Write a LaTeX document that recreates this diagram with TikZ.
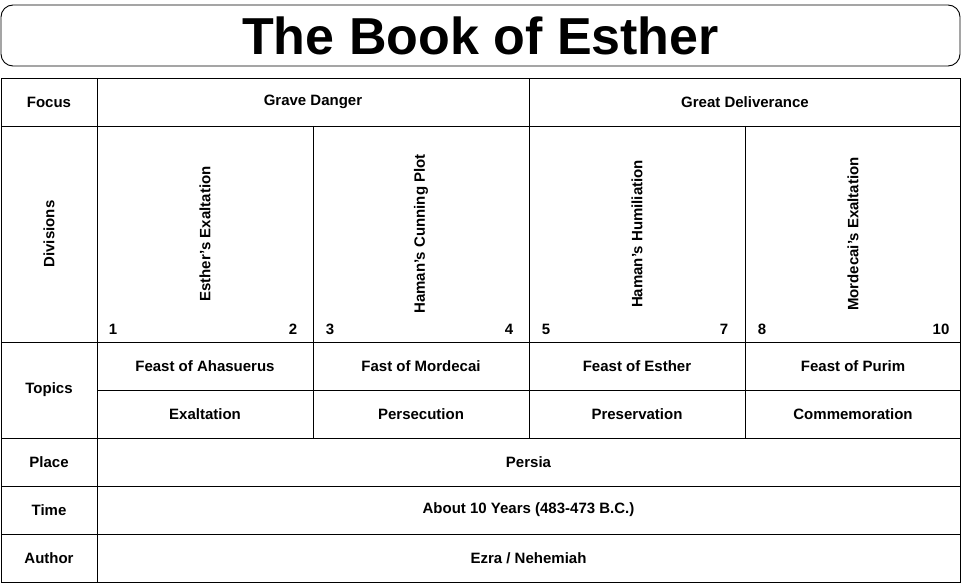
\documentclass[tikz,border=0pt]{standalone}
\usepackage{fontspec}
\setmainfont{Liberation Sans}
\usetikzlibrary{positioning}

\begin{document}
\begin{tikzpicture}[
  x=1pt, y=-1pt,
  cell/.style={font=\bfseries\fontsize{15}{18}\selectfont, inner sep=0pt},
  num/.style={font=\bfseries\fontsize{15}{18}\selectfont, inner sep=1pt, fill=white},
  vert/.style={cell, rotate=90},
  grid/.style={draw=black, line width=0.9pt}
]
\useasboundingbox (0,0) rectangle (961,583);

% Title
\draw[grid, rounded corners=12pt] (1,5) rectangle (960,66);
\node[font=\bfseries\fontsize{52}{56}\selectfont] (title) at (480.5,36) {The Book of Esther};

% Table frame and rows
\draw[grid] (1,78) rectangle (960,582);
\foreach \y in {126,342,438,486,534} \draw[grid] (1,\y) -- (960,\y);
\draw[grid] (97,390) -- (960,390);
\draw[grid] (97,78) -- (97,582);
\draw[grid] (529,78) -- (529,438);
\foreach \x in {313,745} \draw[grid] (\x,126) -- (\x,438);

% Row labels
\node[cell] (focus) at (49,102) {Focus};
\node[vert] (divisions) at (49,234) {Divisions};
\node[cell] (topics) at (49,390) {Topics};
\node[cell] (place) at (49,462) {Place};
\node[cell] (time) at (49,510) {Time};
\node[cell] (author) at (49,558) {Author};

% Focus
\node[cell] (danger) at (313,102) {Grave Danger};
\node[cell] (deliver) at (745,102) {Great Deliverance};

% Divisions
\node[vert] (div1) at (205,234) {Esther’s Exaltation};
\node[vert] (div2) at (421,234) {Haman’s Cunning Plot};
\node[vert] (div3) at (637,234) {Haman’s Humiliation};
\node[vert] (div4) at (853,234) {Mordecai’s Exaltation};

% Chapters
\node[num] (c1) at (113,329) {1};
\node[num] (c2) at (293,329) {2};
\node[num] (c3) at (330,329) {3};
\node[num] (c4) at (509,329) {4};
\node[num] (c5) at (546,329) {5};
\node[num] (c7) at (724,329) {7};
\node[num] (c8) at (762,329) {8};
\node[num] (c10) at (941,329) {10};

% Topics
\node[cell] (t1) at (205,366) {Feast of Ahasuerus};
\node[cell] (t2) at (421,366) {Fast of Mordecai};
\node[cell] (t3) at (637,366) {Feast of Esther};
\node[cell] (t4) at (853,366) {Feast of Purim};
\node[cell] (s1) at (205,414) {Exaltation};
\node[cell] (s2) at (421,414) {Persecution};
\node[cell] (s3) at (637,414) {Preservation};
\node[cell] (s4) at (853,414) {Commemoration};

% Place, time, author
\node[cell] (persia) at (528.5,462) {Persia};
\node[cell] (years) at (528.5,510) {About 10 Years (483-473 B.C.)};
\node[cell] (ezra) at (528.5,558) {Ezra / Nehemiah};

\end{tikzpicture}
\end{document}
